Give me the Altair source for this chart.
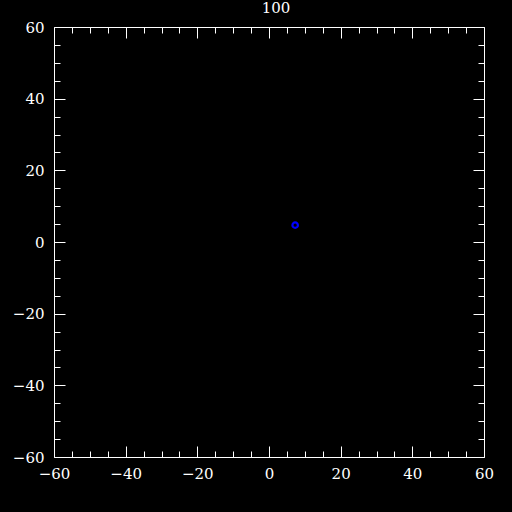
import altair as alt
import pandas as pd
import jinja2

# data
point_x = [7.3]
point_y = [4.7]
title_text = "100"
major_ticks = [-60, -40, -20, 0, 20, 40, 60]
minor_ticks = [v for v in range(-60, 61, 5) if v % 20 != 0]
domain = [-60, 60]

W, H = 430, 430
FONT = "DejaVu Serif"

df = pd.DataFrame({"x": point_x, "y": point_y})
base = alt.Chart(df)

xs = alt.Scale(domain=domain, nice=False, zero=False, padding=0)
ys = alt.Scale(domain=domain, nice=False, zero=False, padding=0)


def tick_axis(orient, values, size, offset):
    return alt.Axis(orient=orient, values=values, tickSize=size, labels=False,
                    domain=False, grid=False, title=None, offset=offset,
                    minExtent=0, maxExtent=0, tickColor="white", tickWidth=1)


def label_axis(orient, pad):
    return alt.Axis(orient=orient, values=major_ticks, ticks=False, tickSize=0,
                    domain=False, grid=False, title=None, labelPadding=pad,
                    labelFlush=False, labelOverlap=False,
                    labelColor="white", labelFont=FONT, labelFontSize=15)


# layer with point and labels
lab = base.mark_point(shape="circle", filled=False, color="#0000ff",
                      strokeWidth=2.2, size=30, opacity=1).encode(
    x=alt.X("x:Q", scale=xs, axis=label_axis("bottom", 9)),
    y=alt.Y("y:Q", scale=ys, axis=label_axis("left", 10)),
)

layers = [lab]
for vals, size in [(major_ticks, 11), (minor_ticks, 6)]:
    layers.append(base.mark_point(opacity=0).encode(
        x=alt.X("x:Q", scale=xs, axis=tick_axis("top", vals, size, -H)),
        y=alt.Y("y:Q", scale=ys, axis=tick_axis("right", vals, size, -W)),
    ))
    layers.append(base.mark_point(opacity=0).encode(
        x=alt.X("x:Q", scale=xs, axis=tick_axis("bottom", vals, size, -H)),
        y=alt.Y("y:Q", scale=ys, axis=tick_axis("left", vals, size, -W)),
    ))

chart = alt.layer(*layers).resolve_axis(x="independent", y="independent").properties(
    width=W, height=H,
    title=alt.TitleParams(title_text, color="white", font=FONT, fontSize=15,
                          fontWeight="normal", anchor="middle", frame="group",
                          baseline="alphabetic", offset=6, dx=7, dy=14),
    autosize=alt.AutoSizeParams(type="none"),
    padding={"left": 54, "top": 27, "right": 28, "bottom": 55},
    background="black",
).configure_view(stroke="white", strokeWidth=1)

PAGE = jinja2.Template("""<!DOCTYPE html>
<html>
<head>
  <meta charset="utf-8">
  <style>
    html, body { margin: 0; padding: 0; background: black; }
    #{{ output_div }}.vega-embed { width: 100%; display: flex; }
  </style>
  <script type="text/javascript" src="{{ base_url }}/vega@{{ vega_version }}"></script>
  <script type="text/javascript" src="{{ base_url }}/vega-lite@{{ vegalite_version }}"></script>
  <script type="text/javascript" src="{{ base_url }}/vega-embed@{{ vegaembed_version }}"></script>
</head>
<body>
  <div id="{{ output_div }}"></div>
  <script>
    (function(vegaEmbed) {
      var spec = {{ spec }};
      var embedOpt = {{ embed_options }};
      const el = document.getElementById('{{ output_div }}');
      vegaEmbed("#{{ output_div }}", spec, embedOpt).catch(function(error) {
        el.innerHTML = '<div style="color:red;">' + error.message + '</div>';
        throw error;
      });
    })(vegaEmbed);
  </script>
</body>
</html>
""")

chart.save("out.html", embed_options={"renderer": "svg", "actions": False},
           template=PAGE)
